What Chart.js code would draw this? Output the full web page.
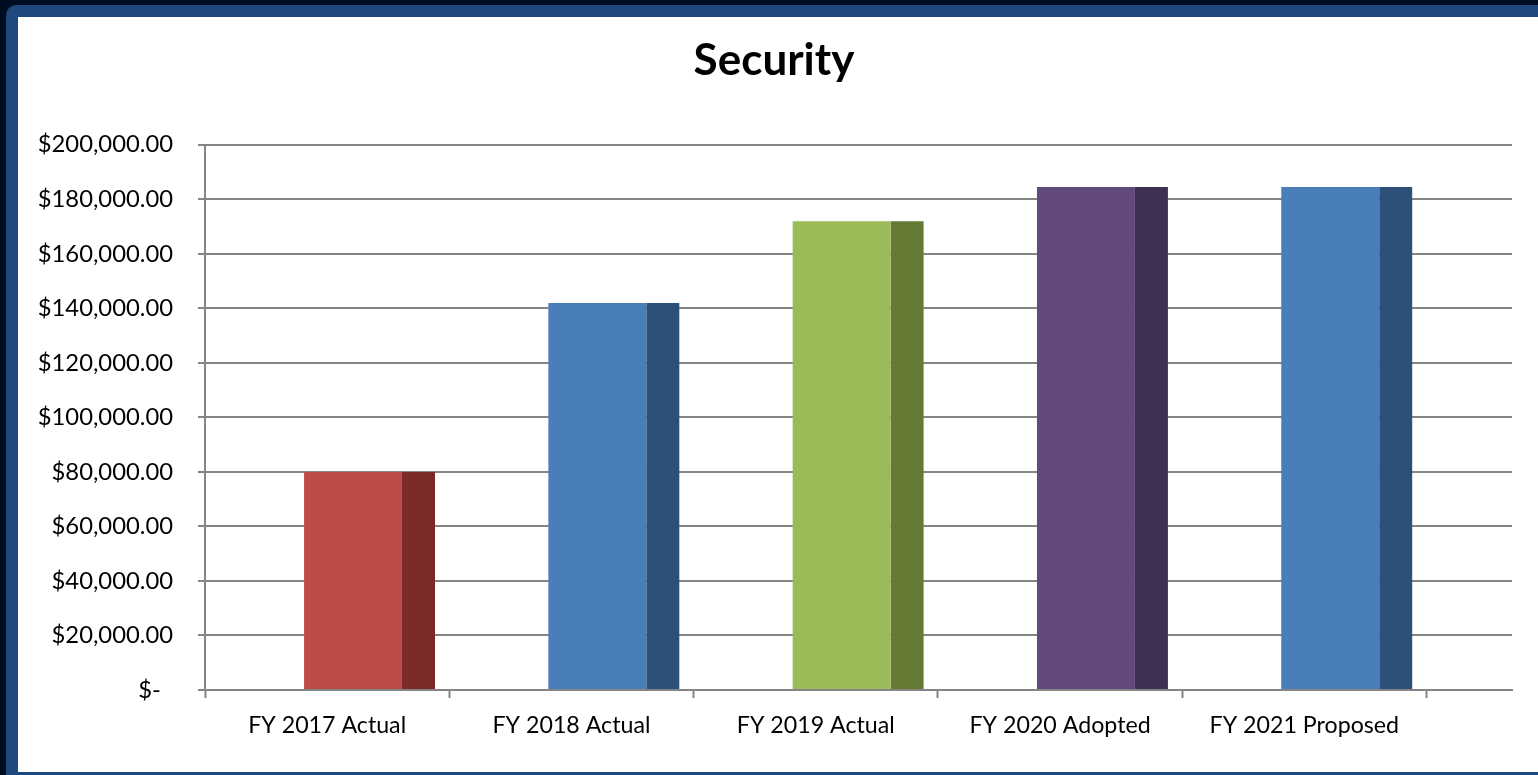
<!DOCTYPE html>
<html>
<head>
<meta charset="utf-8">
<title>Security</title>
<script src="https://cdn.jsdelivr.net/npm/chart.js@4.4.1/dist/chart.umd.min.js"></script>
<style>
  html, body { margin: 0; padding: 0; }
  body { width: 1538px; height: 775px; background: #000c22; overflow: hidden; position: relative; }
  .frame { position: absolute; left: 6px; top: 5px; width: 1560px; height: 800px; background: #1f497d; border-radius: 10px; }
  .panel { position: absolute; left: 18px; top: 17px; width: 1520px; height: 755px; background: #fff; }
  .holder { position: absolute; left: 0; top: 17px; width: 1538px; height: 755px; }
</style>
</head>
<body>
<div class="frame"></div>
<div class="panel"></div>
<div class="holder"><canvas id="myChart"></canvas></div>
<script>
  // data
  const categories = ["FY 2017 Actual", "FY 2018 Actual", "FY 2019 Actual", "FY 2020 Adopted", "FY 2021 Proposed"];
  const amounts = [80000, 142000, 172000, 184500, 184500];
  const yTicks = [0, 20000, 40000, 60000, 80000, 100000, 120000, 140000, 160000, 180000, 200000];

  const frontColors = ["#be4b48", "#4a7ebb", "#9bbb59", "#624a7e", "#4a7ebb"];
  const sideColors = ["#7b2a28", "#2d5079", "#657b35", "#3e2f53", "#2d5079"];

  // the floor of the 3d chart runs a bit past the last category
  const xMax = categories.length + 0.35;
  const barShift = 0.8065;
  const gridGrey = "#858585";

  const money = (v) =>
    v === 0 ? "$-  " : "$" + v.toLocaleString("en-US", { minimumFractionDigits: 2, maximumFractionDigits: 2 });

  Chart.defaults.font.family = "Lato";
  Chart.defaults.color = "#000";

  const ctx = document.getElementById("myChart");

  new Chart(ctx, {
    type: "bar",
    data: {
      datasets: [
        {
          label: "front",
          data: amounts.map((v, i) => ({ x: i + barShift, y: v })),
          backgroundColor: frontColors,
          categoryPercentage: 0.802,
          barPercentage: 1,
          xAxisID: "x",
        },
        {
          label: "side",
          data: amounts.map((v, i) => ({ x: i + barShift, y: v })),
          backgroundColor: sideColors,
          categoryPercentage: 0.27,
          barPercentage: 1,
          xAxisID: "x",
        },
      ],
    },
    options: {
      responsive: true,
      maintainAspectRatio: false,
      animation: false,
      layout: { padding: { left: 36, right: 26, top: 0, bottom: 0 } },
      plugins: {
        legend: { display: false },
        tooltip: { enabled: false },
        title: {
          display: true,
          text: "Security",
          font: { size: 44, weight: "bold" },
          color: "#000",
          padding: { top: 17, bottom: 58 },
        },
      },
      scales: {
        x: {
          type: "linear",
          display: false,
          offset: false,
          min: 0,
          max: xMax,
          ticks: { stepSize: 1, includeBounds: false },
        },
        xl: {
          type: "linear",
          position: "bottom",
          offset: false,
          min: 0,
          max: xMax,
          afterBuildTicks: (scale) => {
            const t = [];
            for (let i = 0; i <= categories.length * 2; i++) t.push({ value: i / 2 });
            scale.ticks = t;
          },
          afterFit: (scale) => {
            scale.height = 82;
          },
          ticks: {
            autoSkip: false,
            maxRotation: 0,
            padding: 14,
            font: { size: 23.2 },
            callback: (value) => (value % 1 === 0.5 ? categories[Math.floor(value)] : ""),
          },
          grid: {
            offset: false,
            drawOnChartArea: false,
            drawTicks: true,
            tickLength: 8,
            tickWidth: 2,
            tickColor: (c) => (c.tick && c.tick.value % 1 === 0 ? gridGrey : "rgba(0,0,0,0)"),
          },
          border: { display: true, color: gridGrey, width: 2 },
        },
        y: {
          min: 0,
          max: 200000,
          afterBuildTicks: (scale) => {
            scale.ticks = yTicks.map((v) => ({ value: v }));
          },
          afterFit: (scale) => {
            scale.width = 169;
          },
          ticks: {
            padding: 25,
            font: { size: 23.8 },
            callback: (value) => money(value),
          },
          grid: {
            color: gridGrey,
            lineWidth: 2,
            tickLength: 7,
            tickWidth: 2,
            tickColor: gridGrey,
          },
          border: { display: true, color: gridGrey, width: 2 },
        },
      },
    },
  });
</script>
</body>
</html>
